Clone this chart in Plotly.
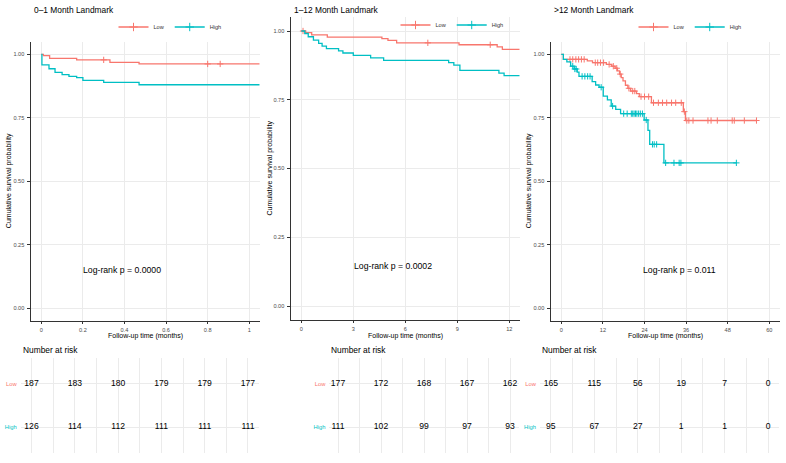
import numpy as np
import plotly.graph_objects as go

W, H = 786, 463
RED = "#F8766D"
TEAL = "#00BFC4"
FONT = "Liberation Sans, Arial, sans-serif"
GRID = "#EBEBEB"

# ---------------- data ----------------
titles = ["0–1 Month Landmark", "1–12 Month Landmark", ">12 Month Landmark"]
pvals = ["Log-rank p = 0.0000", "Log-rank p = 0.0002", "Log-rank p = 0.011"]
groups = ["Low", "High"]

# Panel 1 (0-1 month)
low1_t = [0, 0.01, 0.04, 0.17, 0.33, 0.47]
low1_s = [1.0, 0.995, 0.984, 0.978, 0.968, 0.962]
low1_end = 1.05
low1_cens = [0.30, 0.80, 0.86]
high1_t = [0, 0.003, 0.037, 0.066, 0.10, 0.133, 0.17, 0.20, 0.30, 0.47]
high1_s = [1.0, 0.958, 0.943, 0.929, 0.920, 0.913, 0.908, 0.897, 0.889, 0.880]
high1_end = 1.05
high1_cens = []

# Panel 2 (1-12 months)
low2_t = [0, 0.25, 0.6, 1.5, 4.65, 5.0, 5.5, 9.1, 11.3, 11.6]
low2_s = [1.0, 0.994, 0.986, 0.978, 0.972, 0.966, 0.957, 0.950, 0.942, 0.933]
low2_end = 12.6
low2_cens = [0.1, 7.3, 10.9]
high2_t = [0, 0.2, 0.4, 0.7, 1.0, 1.2, 1.45, 2.15, 2.4, 3.0, 4.0, 4.75, 8.5, 8.8, 9.15, 11.4, 11.7]
high2_s = [1.0, 0.991, 0.979, 0.967, 0.955, 0.945, 0.936, 0.928, 0.920, 0.911, 0.902, 0.893,
           0.885, 0.876, 0.857, 0.847, 0.838]
high2_end = 12.6
high2_cens = []

# Panel 3 (>12 months)
low3_t = [0, 0.6, 7.5, 9.0, 13.0, 14.5, 15.5, 16.2, 16.8, 17.3, 17.8, 18.5, 19.2, 20.0,
          21.7, 22.5, 26.0, 35.2, 35.8]
low3_s = [1.0, 0.980, 0.974, 0.967, 0.960, 0.953, 0.945, 0.935, 0.922, 0.908, 0.895, 0.878,
          0.866, 0.855, 0.845, 0.833, 0.809, 0.774, 0.739]
low3_end = 56.3
low3_cens = [2.5, 3.3, 4.2, 5.0, 5.8, 6.6, 9.8, 10.5, 11.3, 12.2, 13.8, 15.0, 16.0, 17.0,
             19.5, 20.6, 21.2, 23.0, 24.0, 25.2, 26.6, 28.0, 29.2, 30.4, 31.8, 33.0, 34.6,
             35.5, 36.2, 36.8, 38.0, 42.3, 43.2, 45.0, 49.3, 49.9, 52.8, 56.3]
high3_t = [0, 0.6, 1.6, 2.7, 3.7, 4.6, 5.1, 8.9, 9.9, 10.9, 12.1, 13.3, 14.4, 15.7, 17.1,
           23.9, 25.0, 25.5, 29.6]
high3_s = [1.0, 0.980, 0.970, 0.953, 0.942, 0.930, 0.913, 0.892, 0.879, 0.870, 0.835, 0.820,
           0.796, 0.783, 0.766, 0.741, 0.700, 0.645, 0.572]
high3_end = 50.5
high3_cens = [3.3, 3.9, 4.3, 6.0, 6.8, 7.6, 8.3, 11.5, 14.8, 18.0, 19.0, 20.2, 20.6, 21.0,
              21.4, 21.8, 22.3, 22.8, 23.4, 24.5, 26.3, 26.8, 27.5, 30.1, 32.5, 34.0, 34.5, 50.5]

# Risk tables
risk1_times = [0, 0.2, 0.4, 0.6, 0.8, 1.0]
risk1_low = [187, 183, 180, 179, 179, 177]
risk1_high = [126, 114, 112, 111, 111, 111]
risk2_times = [0, 3, 6, 9, 12]
risk2_low = [177, 172, 168, 167, 162]
risk2_high = [111, 102, 99, 97, 93]
risk3_times = [0, 12, 24, 36, 48, 60]
risk3_low = [165, 115, 56, 19, 7, 0]
risk3_high = [95, 67, 27, 1, 1, 0]

# x-axis ticks
xt1 = [0, 0.2, 0.4, 0.6, 0.8, 1.0]
xt1_lab = ["0", "0.2", "0.4", "0.6", "0.8", "1"]
xt2 = [0, 3, 6, 9, 12]
xt3 = [0, 12, 24, 36, 48, 60]
yt = [0, 0.25, 0.5, 0.75, 1.0]
yt_lab = ["0.00", "0.25", "0.50", "0.75", "1.00"]

# ---------------- layout geometry (pixels) ----------------
panels = [
    dict(curves=[(low1_t, low1_s, low1_end, low1_cens), (high1_t, high1_s, high1_end, high1_cens)],
         xr=[-0.05, 1.05], xt=xt1, xtl=xt1_lab, minor=0.1,
         plot=(30.9, 259.7, 41.6, 320.7), risk=(20.7, 258.8),
         rt=risk1_times, rl=risk1_low, rh=risk1_high,
         leg=(170, 27), pv=(0.39, 0.15), ytitle_x=9),
    dict(curves=[(low2_t, low2_s, low2_end, low2_cens), (high2_t, high2_s, high2_end, high2_cens)],
         xr=[-0.6, 12.6], xt=xt2, xtl=[str(v) for v in xt2], minor=1.5,
         plot=(290.9, 519.7, 17.25, 319.75), risk=(329.4, 518.6),
         rt=risk2_times, rl=risk2_low, rh=risk2_high,
         leg=(452, 25), pv=(5.3, 0.145), ytitle_x=269),
    dict(curves=[(low3_t, low3_s, low3_end, low3_cens), (high3_t, high3_s, high3_end, high3_cens)],
         xr=[-3, 63], xt=xt3, xtl=[str(v) for v in xt3], minor=6,
         plot=(550.9, 779.7, 41.6, 320.7), risk=(540.0, 779.0),
         rt=risk3_times, rl=risk3_low, rh=risk3_high,
         leg=(690, 27), pv=(34.2, 0.15), ytitle_x=529),
]
RISK_Y = (358.0, 453.0)
RISK_ROWS = {"Low": 2, "High": 1}
COLORS = {"Low": RED, "High": TEAL}


def fx(p):
    return p / W


def fy(p):
    return 1 - p / H


def step_lookup(ts, ss, c):
    i = int(np.searchsorted(np.array(ts), c, side="right")) - 1
    return ss[max(i, 0)]


fig = go.Figure()
annotations = []
layout = {}

for k, P in enumerate(panels):
    i = k + 1
    r = k + 4
    xa = "x" if i == 1 else f"x{i}"
    ya = "y" if i == 1 else f"y{i}"
    xr_ = f"x{r}"
    yr_ = f"y{r}"
    legname = "legend" if i == 1 else f"legend{i}"

    for g, (ts, ss, end, cens) in zip(groups, P["curves"]):
        col = COLORS[g]
        fig.add_trace(go.Scatter(
            x=list(ts) + [end], y=list(ss) + [ss[-1]], mode="lines",
            line=dict(color=col, width=1.3, shape="hv"),
            showlegend=False, hoverinfo="skip", xaxis=xa, yaxis=ya))
        if cens:
            fig.add_trace(go.Scatter(
                x=cens, y=[step_lookup(ts, ss, c) for c in cens], mode="markers",
                marker=dict(symbol="cross-thin", size=4.5, color=col, line=dict(color=col, width=1)),
                showlegend=False, hoverinfo="skip", xaxis=xa, yaxis=ya))
        # legend entry
        fig.add_trace(go.Scatter(
            x=[None], y=[None], mode="lines+markers", name=g,
            line=dict(color=col, width=1.3),
            marker=dict(symbol="cross-thin", size=6, color=col, line=dict(color=col, width=1)),
            legend=legname, xaxis=xa, yaxis=ya))

    # risk table numbers
    for g, vals in (("Low", P["rl"]), ("High", P["rh"])):
        fig.add_trace(go.Scatter(
            x=P["rt"], y=[RISK_ROWS[g]] * len(vals), mode="text",
            text=[str(v) for v in vals], textposition="middle center",
            textfont=dict(family=FONT, size=8.6, color="#000000"),
            showlegend=False, hoverinfo="skip", xaxis=xr_, yaxis=yr_))

    x0, x1, y0, y1 = P["plot"]
    axfont = dict(family=FONT, size=5.6, color="#4D4D4D")
    layout["xaxis" if i == 1 else f"xaxis{i}"] = dict(
        domain=[fx(x0), fx(x1)], anchor=ya, range=P["xr"],
        tickvals=P["xt"], ticktext=P["xtl"], tickfont=axfont,
        showline=True, linecolor="#333333", linewidth=1,
        ticks="outside", ticklen=2.5, tickcolor="#333333", tickwidth=0.8,
        showgrid=True, gridcolor=GRID, gridwidth=0.8, zeroline=False,
        ticklabelstandoff=1)
    layout["yaxis" if i == 1 else f"yaxis{i}"] = dict(
        domain=[fy(y1), fy(y0)], anchor=xa, range=[-0.05, 1.05],
        tickvals=yt, ticktext=yt_lab, tickfont=axfont,
        showline=True, linecolor="#333333", linewidth=1,
        ticks="outside", ticklen=2.5, tickcolor="#333333", tickwidth=0.8,
        showgrid=True, gridcolor=GRID, gridwidth=0.8, zeroline=False,
        ticklabelstandoff=2)

    rx0, rx1 = P["risk"]
    layout[f"xaxis{r}"] = dict(
        domain=[fx(rx0), fx(rx1)], anchor=yr_, range=P["xr"],
        dtick=P["minor"], tick0=0, showticklabels=False, ticks="",
        showgrid=True, gridcolor=GRID, gridwidth=0.8, zeroline=False, showline=False)
    layout[f"yaxis{r}"] = dict(
        domain=[fy(RISK_Y[1]), fy(RISK_Y[0])], anchor=xr_, range=[0.4, 2.6],
        tickvals=[RISK_ROWS["Low"], RISK_ROWS["High"]],
        ticktext=[f"<span style='color:{RED}'>Low</span>", f"<span style='color:{TEAL}'>High</span>"],
        tickfont=dict(family=FONT, size=5.8), ticks="", ticklabelstandoff=3,
        showgrid=True, gridcolor=GRID, gridwidth=0.8, zeroline=False, showline=False)

    # legend
    lx, ly = P["leg"]
    layout[legname] = dict(
        x=fx(lx), y=fy(ly), xanchor="center", yanchor="middle", orientation="h",
        font=dict(family=FONT, size=5.6, color="#333333"), bgcolor="rgba(0,0,0,0)",
        itemwidth=30, tracegroupgap=0, itemclick=False)

    # texts
    annotations.append(dict(text=titles[k], x=fx(x0 + (0.8 if i != 2 else 1.1)), y=fy(10),
                            xref="paper", yref="paper", xanchor="left", yanchor="middle",
                            showarrow=False, font=dict(family=FONT, size=8.4, color="#000000")))
    annotations.append(dict(text=pvals[k], x=P["pv"][0], y=P["pv"][1], xref=xa, yref=ya,
                            xanchor="center", yanchor="middle", showarrow=False,
                            font=dict(family=FONT, size=8.7, color="#000000")))
    annotations.append(dict(text="Follow-up time (months)", x=fx((x0 + x1) / 2), y=fy(336),
                            xref="paper", yref="paper", xanchor="center", yanchor="middle",
                            showarrow=False, font=dict(family=FONT, size=7, color="#000000")))
    annotations.append(dict(text="Cumulative survival probability", x=fx(P["ytitle_x"]),
                            y=fy((y0 + y1) / 2), xref="paper", yref="paper", xanchor="center",
                            yanchor="middle", textangle=-90, showarrow=False,
                            font=dict(family=FONT, size=7, color="#000000")))
    annotations.append(dict(text="Number at risk", x=fx(rx0), y=fy(350),
                            xref="paper", yref="paper", xanchor="left", yanchor="middle",
                            showarrow=False, font=dict(family=FONT, size=8.4, color="#000000")))

fig.update_layout(
    width=W, height=H, margin=dict(l=0, r=0, t=0, b=0),
    paper_bgcolor="white", plot_bgcolor="white",
    font=dict(family=FONT), annotations=annotations, **layout)

fig.write_html("out.html")
